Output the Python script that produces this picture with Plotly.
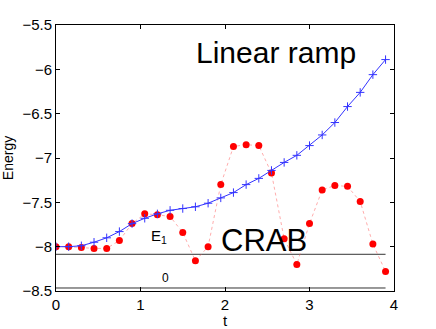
import numpy as np
import plotly.graph_objects as go

t = [round(0.15 * i, 2) for i in range(27)]

linear_ramp = [-8.00, -8.00, -7.99, -7.95, -7.90, -7.83, -7.74, -7.68, -7.63,
               -7.59, -7.57, -7.55, -7.51, -7.45, -7.39, -7.30, -7.23, -7.14,
               -7.05, -6.97, -6.86, -6.74, -6.60, -6.42, -6.26, -6.06, -5.89]

crab = [-8.00, -8.00, -8.01, -8.02, -8.02, -7.93, -7.74, -7.63, -7.64,
        -7.66, -7.84, -8.16, -8.00, -7.30, -6.87, -6.85, -6.86, -7.17,
        -7.91, -8.20, -7.74, -7.36, -7.31, -7.32, -7.49, -7.97, -8.28]

level_t = [0, 3.9]
e1_level = -8.086
e0_level = -8.466

fig = go.Figure()

fig.add_trace(go.Scatter(x=level_t, y=[e1_level, e1_level], mode='lines',
                         line=dict(color='#333333', width=1), showlegend=False))
fig.add_trace(go.Scatter(x=level_t, y=[e0_level, e0_level], mode='lines',
                         line=dict(color='#333333', width=1), showlegend=False))

fig.add_trace(go.Scatter(x=t, y=crab, mode='lines+markers',
                         line=dict(color='rgba(255,90,90,0.5)', width=1, dash='dot'),
                         marker=dict(color='#ff0000', size=7),
                         showlegend=False))

fig.add_trace(go.Scatter(x=t, y=linear_ramp, mode='lines+markers',
                         line=dict(color='#3333ff', width=1),
                         marker=dict(symbol='cross-thin', size=6,
                                     line=dict(color='#3333ff', width=1)),
                         showlegend=False))

fig.add_annotation(x=2.6, y=-5.81, text='Linear ramp', showarrow=False,
                   font=dict(size=30, color='black'))
fig.add_annotation(x=2.46, y=-7.93, text='CRAB', showarrow=False,
                   font=dict(size=31, color='black'))
fig.add_annotation(x=1.22, y=-7.89, text='E<sub>1</sub>', showarrow=False,
                   font=dict(size=15, color='black'))
fig.add_annotation(x=1.3, y=-8.35, text='0', showarrow=False,
                   font=dict(size=12, color='black'))

axis_style = dict(showline=True, linecolor='black', linewidth=1, mirror='ticks',
                  ticks='inside', ticklen=4, tickcolor='black',
                  showgrid=False, zeroline=False, automargin=False,
                  tickfont=dict(size=15, color='black'))

fig.update_xaxes(range=[0, 4], dtick=1, title=dict(text='t', standoff=2,
                 font=dict(size=15, color='black')), **axis_style)
fig.update_yaxes(range=[-8.5, -5.5], dtick=0.5, tickformat='.1~f',
                 title=dict(text='Energy', standoff=6,
                            font=dict(size=14, color='black')), **axis_style)

fig.update_layout(
    width=436, height=329,
    margin=dict(l=56, r=42, t=25, b=38),
    plot_bgcolor='white', paper_bgcolor='white',
    font=dict(family='Liberation Sans, Arial, sans-serif', color='black'),
)

# the page body has a default 8px margin; drop it so the figure sits at 0,0
fig.write_html("out.html", config={'displayModeBar': False},
               post_script="document.body.style.margin='0';")
